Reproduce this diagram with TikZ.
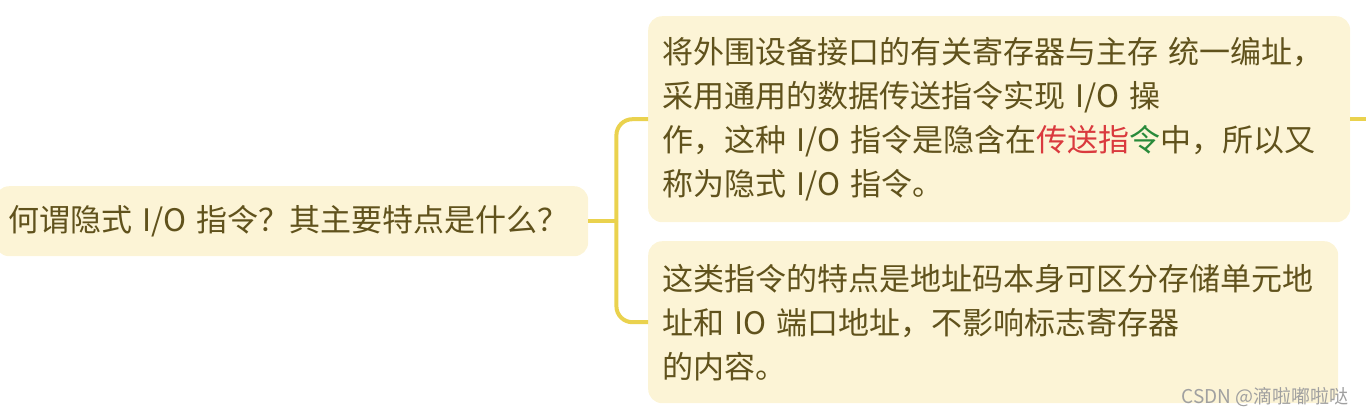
\documentclass[tikz,border=0pt]{standalone}
\usepackage{fontspec}
\setmainfont{Noto Sans CJK SC}
\usetikzlibrary{positioning}
\definecolor{topicfill}{RGB}{252,244,214}
\definecolor{topictext}{RGB}{96,82,28}
\definecolor{linkyellow}{RGB}{234,210,78}
\definecolor{hotred}{RGB}{218,58,62}
\definecolor{okgreen}{RGB}{40,138,58}
\definecolor{markgray}{RGB}{160,160,160}

\begin{document}
\begin{tikzpicture}[x=1pt,y=-1pt,
  topic/.style={fill=topicfill, rounded corners=14pt, text=topictext,
    font=\fontsize{31}{44}\selectfont, align=left, anchor=north west,
    inner xsep=14pt, inner ysep=0pt},
  link/.style={draw=linkyellow, line width=4pt, rounded corners=16pt}]
  \useasboundingbox (0,0) rectangle (1366,416);

  % Root
  \node[topic, text width=567pt, inner xsep=13pt, minimum height=70pt] (root) at (-5,186)
    {何谓隐式 I/O 指令？其主要特点是什么？};

  % Answer 1
  \node[topic, text width=674pt, minimum height=206pt] (ans1) at (648,16)
    {将外围设备接口的有关寄存器与主存 统一编址，\\
     采用通用的数据传送指令实现 I/O 操\\
     作，这种 I/O 指令是隐含在{\color{hotred}传送指}{\color{okgreen}令}中，所以又\\
     称为隐式 I/O 指令。};

  % Answer 2
  \node[topic, text width=662pt, minimum height=162pt] (ans2) at (648,241)
    {这类指令的特点是地址码本身可区分存储单元地\\
     址和 IO 端口地址，不影响标志寄存器\\
     的内容。};

  % Links
  \coordinate[right=28pt of root.east] (fork);
  \draw[link] (root.east) -- (fork);
  \draw[link] (fork) |- (ans1.west);
  \draw[link] (fork) |- (ans2.west);
  \coordinate[right=16pt of ans1.east] (next);
  \draw[link] (ans1.east) -- (next);

  % Watermark
  \node[anchor=south east, text=markgray, font=\fontsize{19}{22}\selectfont] (mark) at (1352,410)
    {CSDN @滴啦嘟啦哒};
\end{tikzpicture}
\end{document}
